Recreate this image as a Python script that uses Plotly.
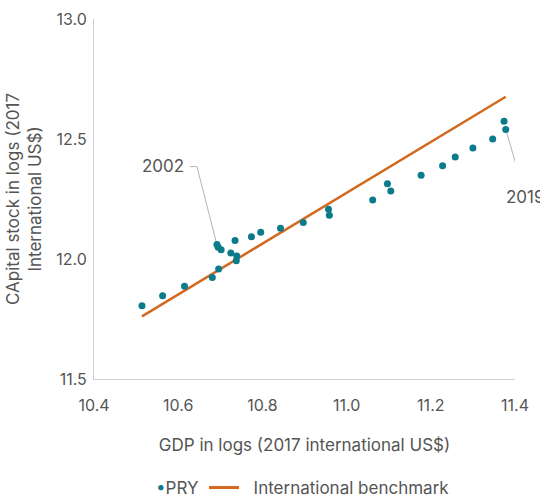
import plotly.graph_objects as go

# Paraguay: GDP and capital stock, both in logs (2017 international US$)
gdp_log = [10.514, 10.563, 10.615, 10.681, 10.696, 10.692, 10.695, 10.702,
           10.725, 10.739, 10.738, 10.735, 10.774, 10.796, 10.843, 10.897,
           10.957, 10.959, 11.062, 11.097, 11.105, 11.177, 11.228, 11.258,
           11.300, 11.347, 11.374, 11.378]
capital_log = [11.805, 11.847, 11.886, 11.923, 11.958, 12.060, 12.049, 12.039,
               12.025, 12.012, 11.993, 12.077, 12.093, 12.111, 12.128, 12.152,
               12.207, 12.182, 12.246, 12.314, 12.283, 12.349, 12.389, 12.425,
               12.462, 12.500, 12.574, 12.540]

# International benchmark line
bench_gdp = [10.514, 11.378]
bench_capital = [11.761, 12.676]

# Labelled years: (label, index into the series)
labels = [("2002", 5), ("2019", 27)]

TEAL = "#0b7b8b"
ORANGE = "#d2691e"
GREY = "#555555"
FONT = "Inter"

fig = go.Figure()

fig.add_trace(go.Scatter(
    x=bench_gdp, y=bench_capital, mode="lines",
    line=dict(color=ORANGE, width=2.5),
    name="International benchmark", showlegend=False,
))
fig.add_trace(go.Scatter(
    x=gdp_log, y=capital_log, mode="markers",
    marker=dict(color=TEAL, size=7),
    name="PRY", showlegend=False,
))
# legend entries: the PRY dot sits right against its label
fig.add_trace(go.Scatter(
    x=[None], y=[None], mode="markers",
    marker=dict(color="rgba(0,0,0,0)", size=1),
    name=f"<span style='color:{TEAL}'>•</span>PRY",
))
fig.add_trace(go.Scatter(
    x=[None], y=[None], mode="lines",
    line=dict(color=ORANGE, width=3),
    name="\u00a0\u00a0International benchmark",
))

# leader lines (pixel paths anchored at the labelled points)
leader_paths = {"2002": "M0,0 L-20,78 L-27,78", "2019": "M0,0 L16,-55"}
text_shift = {"2002": (-54, 79), "2019": (20, -68)}
for lab, i in labels:
    fig.add_shape(
        type="path", xref="x", yref="y",
        xsizemode="pixel", ysizemode="pixel",
        xanchor=gdp_log[i], yanchor=capital_log[i],
        path=leader_paths[lab],
        line=dict(color="#b5b5b5", width=1), layer="below",
    )
    dx, dy = text_shift[lab]
    fig.add_annotation(
        x=gdp_log[i], y=capital_log[i], text=lab, showarrow=False,
        xshift=dx, yshift=dy,
        font=dict(family=FONT, size=17, color=GREY),
    )

fig.update_layout(
    width=540, height=500,
    margin=dict(l=94, r=25, t=19, b=121, autoexpand=False),
    plot_bgcolor="white", paper_bgcolor="white",
    font=dict(family=FONT, size=16, color=GREY),
    showlegend=True,
    legend=dict(
        orientation="h", x=0.455, xanchor="center",
        yref="container", y=0.024, yanchor="middle",
        font=dict(family=FONT, size=17, color=GREY),
        itemwidth=30,
    ),
)
fig.update_xaxes(
    range=[10.4, 11.4], dtick=0.2, tickformat=".1f",
    showgrid=False, zeroline=False, automargin=False,
    showline=True, linecolor="#d0d0d0", linewidth=1,
    ticks="outside", ticklen=12, tickcolor="rgba(0,0,0,0)",
    title=dict(text="GDP in logs (2017 international US$)",
               font=dict(size=17, color=GREY), standoff=24),
)
fig.update_yaxes(
    range=[11.5, 13.0], dtick=0.5, tickformat=".1f",
    showgrid=False, zeroline=False, automargin=False,
    showline=True, linecolor="#d0d0d0", linewidth=1,
    ticks="outside", ticklen=3, tickcolor="rgba(0,0,0,0)",
    title=dict(text="CApital stock in logs (2017<br>International US$)",
               font=dict(size=17, color=GREY), standoff=10),
)

fig.write_html("out.html")
